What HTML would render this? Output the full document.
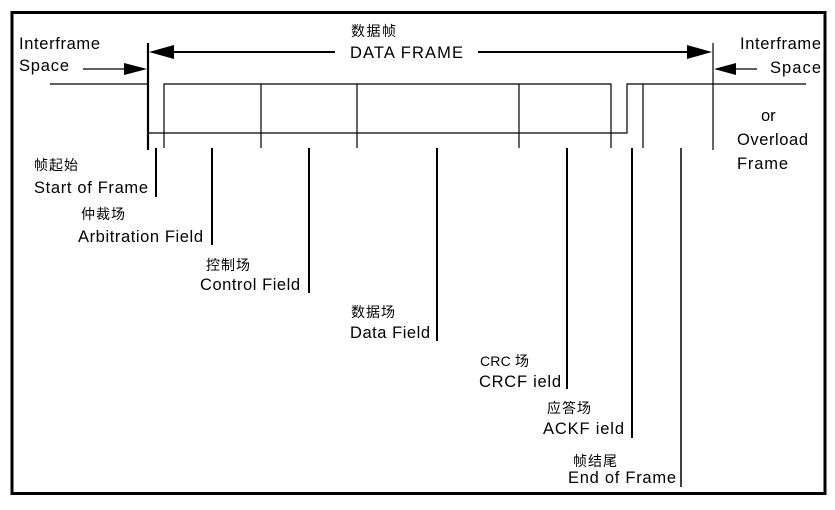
<!DOCTYPE html>
<html><head><meta charset="utf-8"><style>
body{margin:0;background:#fff}
svg text{font-family:"Liberation Sans","Noto Sans CJK SC",sans-serif;fill:#000}
.e{font-size:16.5px}.c{font-size:14px}
</style></head><body>
<svg width="835" height="505" xmlns="http://www.w3.org/2000/svg">
<rect x="12" y="12.5" width="813" height="481" fill="none" stroke="#000" stroke-width="3"/>
<g stroke="#000" fill="none" stroke-width="1.2">
<line x1="148" y1="43" x2="148" y2="150" stroke-width="2.2"/>
<line x1="713" y1="43" x2="713" y2="150"/>
<line x1="172" y1="52" x2="335" y2="52" stroke-width="2"/>
<line x1="478" y1="52" x2="690" y2="52" stroke-width="2"/>
<line x1="83" y1="69" x2="126" y2="69"/>
<line x1="734" y1="69" x2="757" y2="69"/>
<polyline points="50,84 148,84"/>
<polyline points="164,148 164,84 611,84 611,148"/>
<polyline points="148,133 627,133 627,84 806,84"/>
<line x1="261" y1="84" x2="261" y2="148"/>
<line x1="357" y1="84" x2="357" y2="148"/>
<line x1="519" y1="84" x2="519" y2="148"/>
<line x1="643" y1="84" x2="643" y2="148"/>
<g stroke-width="2">
<line x1="156" y1="148" x2="156" y2="197"/>
<line x1="212" y1="148" x2="212" y2="245"/>
<line x1="309" y1="148" x2="309" y2="293"/>
<line x1="437" y1="148" x2="437" y2="341"/>
<line x1="567" y1="148" x2="567" y2="389"/>
<line x1="632" y1="148" x2="632" y2="438"/>
</g>
<line x1="681" y1="148" x2="681" y2="487" stroke-width="1.5"/>
</g>
<g fill="#000">
<polygon points="149,52 174,45 174,59"/>
<polygon points="712,52 687,45 687,59"/>
<polygon points="147,69 124,63 124,75"/>
<polygon points="714,69 736,63 736,75"/>
</g>
<text class="c" x="351" y="36" textLength="45" lengthAdjust="spacing">数据帧</text>
<text class="e" x="350" y="58" textLength="113" lengthAdjust="spacing">DATA FRAME</text>
<text class="e" x="19" y="49" textLength="81" lengthAdjust="spacing">Interframe</text>
<text class="e" x="19" y="71" textLength="50" lengthAdjust="spacing">Space</text>
<text class="e" x="740" y="49" textLength="81" lengthAdjust="spacing">Interframe</text>
<text class="e" x="770" y="73" textLength="51" lengthAdjust="spacing">Space</text>
<text class="e" x="761" y="121">or</text>
<text class="e" x="737" y="145" textLength="71" lengthAdjust="spacing">Overload</text>
<text class="e" x="737" y="169" textLength="51" lengthAdjust="spacing">Frame</text>
<text class="c" x="34" y="170" textLength="44" lengthAdjust="spacing">帧起始</text>
<text class="e" x="34" y="193" textLength="114" lengthAdjust="spacing">Start of Frame</text>
<text class="c" x="81" y="219" textLength="44" lengthAdjust="spacing">仲裁场</text>
<text class="e" x="78" y="242" textLength="125" lengthAdjust="spacing">Arbitration Field</text>
<text class="c" x="206" y="270" textLength="44" lengthAdjust="spacing">控制场</text>
<text class="e" x="200" y="290" textLength="100" lengthAdjust="spacing">Control Field</text>
<text class="c" x="351" y="317" textLength="44" lengthAdjust="spacing">数据场</text>
<text class="e" x="350" y="338" textLength="80" lengthAdjust="spacing">Data Field</text>
<text class="c" x="480" y="366" textLength="49" lengthAdjust="spacing">CRC 场</text>
<text class="e" x="479" y="387" textLength="82" lengthAdjust="spacing">CRCF ield</text>
<text class="c" x="547" y="413" textLength="44" lengthAdjust="spacing">应答场</text>
<text class="e" x="543" y="434" textLength="81" lengthAdjust="spacing">ACKF ield</text>
<text class="c" x="573" y="466" textLength="44" lengthAdjust="spacing">帧结尾</text>
<text class="e" x="568" y="483" textLength="108" lengthAdjust="spacing">End of Frame</text>
</svg>
</body></html>
